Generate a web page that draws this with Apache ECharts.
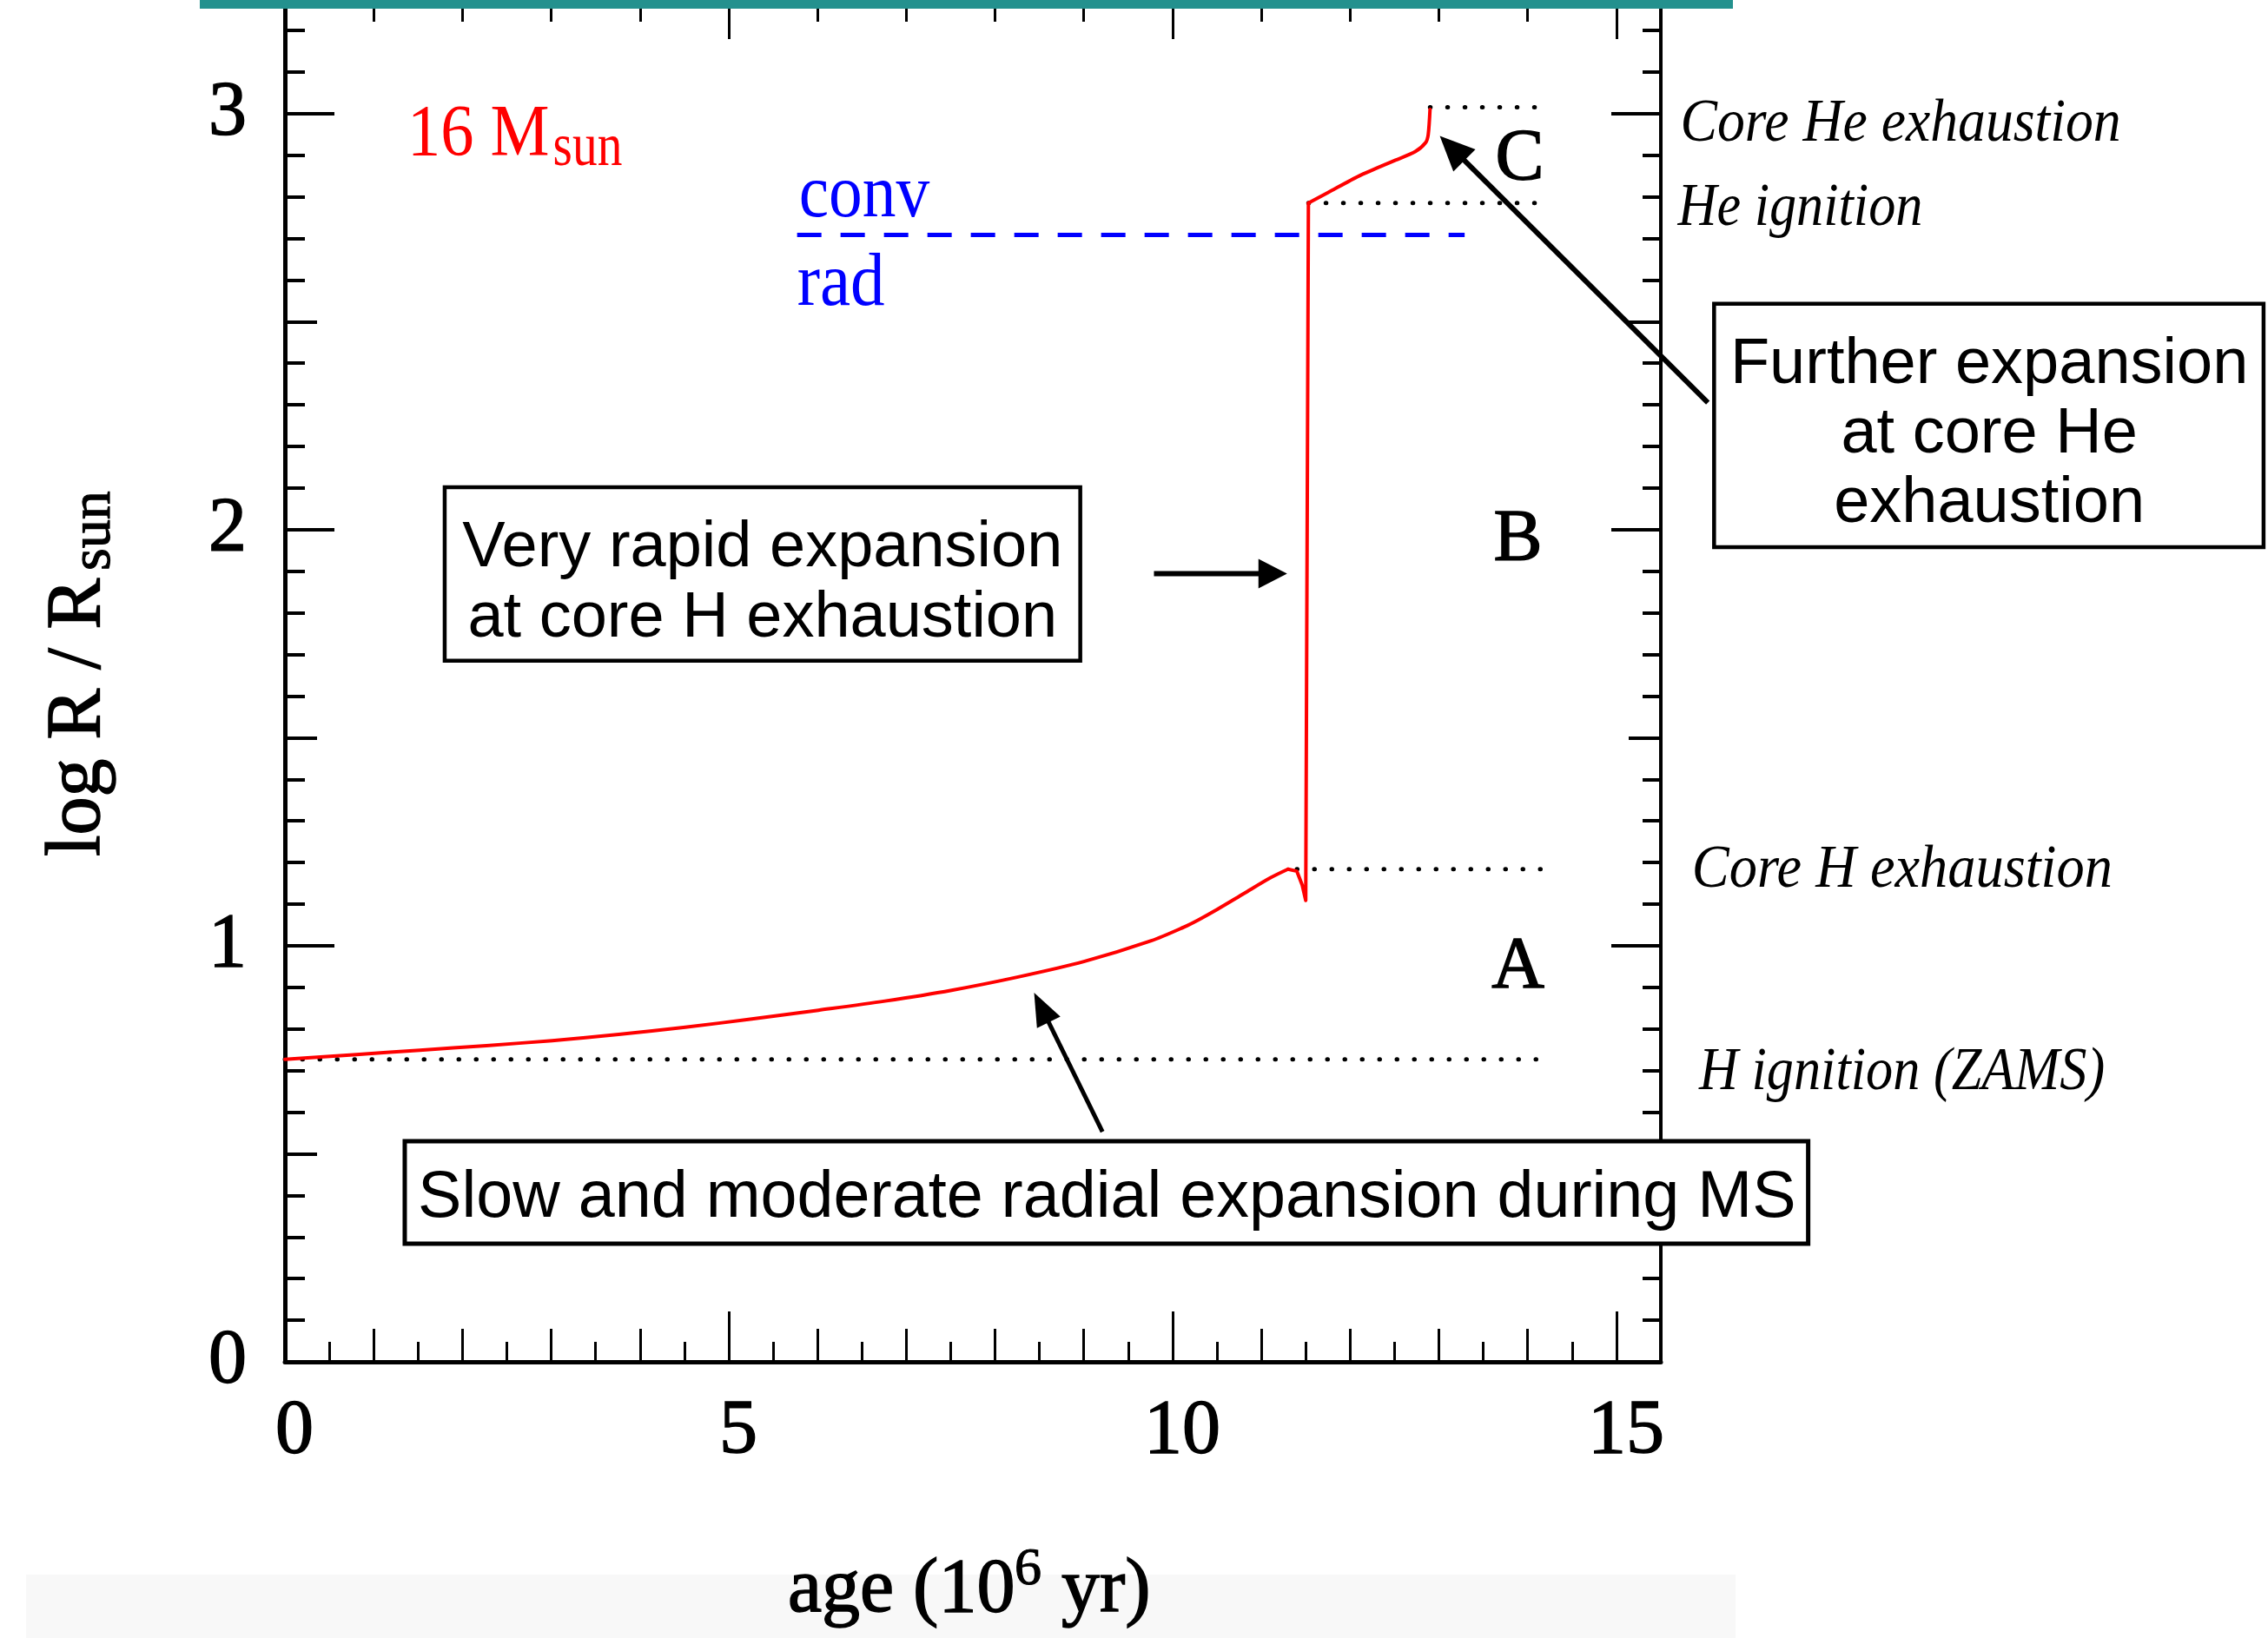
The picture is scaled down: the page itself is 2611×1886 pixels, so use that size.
<!DOCTYPE html>
<html><head><meta charset="utf-8">
<script src="https://cdn.jsdelivr.net/npm/echarts@6/dist/echarts.min.js"></script>
<style>html,body{margin:0;padding:0;background:#fff}#c{width:2611px;height:1886px}</style>
</head><body><div id="c"></div>
<script>
// ---- data (age in 10^6 yr, log R/Rsun) ----
const trackAge  = [0, 0.77, 1.52, 2.27, 3.01, 3.76, 4.51, 5.26, 6.01, 6.76, 7.51, 8.26, 9.0, 9.76, 10.13, 10.29, 10.5, 10.8, 11.1, 11.3, 11.4, 11.46, 11.5, 11.53, 11.75, 12.1, 12.5, 12.73, 12.85, 12.88, 12.9];
const trackLogR = [0.727, 0.738, 0.749, 0.760, 0.772, 0.787, 0.804, 0.824, 0.845, 0.867, 0.893, 0.925, 0.962, 1.012, 1.045, 1.062, 1.087, 1.125, 1.163, 1.184, 1.179, 1.146, 1.109, 2.785, 2.81, 2.85, 2.887, 2.908, 2.93, 2.95, 3.01];
// index ranges of the track phases: main sequence, hook + jump, core He burning
const phaseIndexRanges = [[0, 19], [19, 23], [23, 30]];
const phaseSmooth = [0.3, false, 0.25];

const levelLabels    = ['H ignition (ZAMS)', 'Core H exhaustion', 'He ignition', 'Core He exhaustion'];
const levelLogR      = [0.727, 1.184, 2.785, 3.015];
const levelStartAge  = [0, 11.4, 11.53, 12.9];
const levelEndAge    = [14.18, 14.18, 14.18, 14.18];
const levelLabelAge  = [15.93, 15.85, 15.69, 15.72];
const levelLabelLogR = [0.658, 1.144, 2.733, 2.937];

const boundaryAge  = [5.77, 13.29];
const boundaryLogR = 2.708;

const phaseLabels = ['A', 'B', 'C'];
const phaseAge    = [13.89, 13.89, 13.91];
const phaseLogR   = [0.900, 1.927, 2.841];

const xTickLabels = ['0', '5', '10', '15'];
const yTickLabels = ['0', '1', '2', '3'];

// ---- chart ----
const X_MAX = 15.5, Y_MAX = 3.3;
const SERIF = '"Liberation Serif","Times New Roman",serif';
const SANS = '"Liberation Sans",Arial,sans-serif';
const chart = echarts.init(document.getElementById('c'), null, {renderer: 'canvas', width: 2611, height: 1886});

function xAx(pos, interval, len, main) {
  return {
    type: 'value', position: pos, min: 0, max: X_MAX, interval: interval,
    axisLine: {show: main, onZero: false, lineStyle: {color: '#000', width: pos === 'bottom' ? 5 : 4}},
    axisTick: {show: true, inside: true, length: len, lineStyle: {color: '#000', width: 3}},
    axisLabel: {show: main && pos === 'bottom', margin: 37, fontFamily: SERIF, fontSize: 88, color: '#000',
      textBorderColor: '#000', textBorderWidth: 1.5, padding: [0, 0, 0, 22],
      showMaxLabel: false, showMinLabel: true,
      formatter: v => xTickLabels.indexOf(String(v)) >= 0 ? String(v) : ''},
    splitLine: {show: false}
  };
}
function yAx(pos, interval, len, main) {
  return {
    type: 'value', position: pos, min: 0, max: Y_MAX, interval: interval,
    axisLine: {show: main, onZero: false, lineStyle: {color: '#000', width: pos === 'left' ? 5 : 4}},
    axisTick: {show: true, inside: true, length: len, lineStyle: {color: '#000', width: 4}},
    axisLabel: {show: main && pos === 'left', margin: 44, fontFamily: SERIF, fontSize: 88, color: '#000',
      textBorderColor: '#000', textBorderWidth: 1.5,
      showMaxLabel: false, showMinLabel: true,
      formatter: v => yTickLabels.indexOf(String(v)) >= 0 ? String(v) : ''},
    splitLine: {show: false}
  };
}

const series = [];
levelLogR.forEach((v, i) => {
  series.push({
    type: 'line', xAxisIndex: 0, yAxisIndex: 0, symbol: 'none', silent: true, z: 2,
    data: [[levelStartAge[i], v], [levelEndAge[i], v]],
    lineStyle: {color: '#000', width: 5, type: [0.5, 19.5], cap: 'round'}
  });
});
series.push({
  type: 'line', xAxisIndex: 0, yAxisIndex: 0, symbol: 'none', silent: true, z: 2,
  data: [[boundaryAge[0], boundaryLogR], [boundaryAge[1], boundaryLogR]],
  lineStyle: {color: '#0000ff', width: 5, type: [28, 22]}
});
phaseIndexRanges.forEach((r, k) => {
  const pts = [];
  for (let i = r[0]; i <= r[1]; i++) pts.push([trackAge[i], trackLogR[i]]);
  series.push({
    type: 'line', xAxisIndex: 0, yAxisIndex: 0, symbol: 'none', silent: true, z: 3,
    smooth: phaseSmooth[k],
    data: pts,
    lineStyle: {color: '#ff0000', width: 4, join: 'round', cap: 'round'}
  });
});

chart.setOption({
  animation: false,
  backgroundColor: '#ffffff',
  grid: {left: 328, right: 699, top: -13, bottom: 318, containLabel: false, outerBoundsMode: 'none'},
  xAxis: [
    xAx('bottom', 5, 58, true), xAx('bottom', 1, 38, false), xAx('bottom', 0.5, 23, false),
    xAx('top', 5, 58, true), xAx('top', 1, 38, false), xAx('top', 0.5, 23, false)
  ],
  yAxis: [
    yAx('left', 1, 57, true), yAx('left', 0.5, 37, false), yAx('left', 0.1, 23, false),
    yAx('right', 1, 57, true), yAx('right', 0.5, 37, false), yAx('right', 0.1, 21, false)
  ],
  series: series
});

// ---- annotations ----
function P(x, y) { return chart.convertToPixel({xAxisIndex: 0, yAxisIndex: 0}, [x, y]); }
function txt(x, yBase, s, size, fam, o) {
  o = o || {};
  const k = fam === SANS ? 0.3465 : 0.3375;
  const st = {text: s, font: (o.italic ? 'italic ' : '') + size + 'px ' + fam, fill: o.color || '#000',
      align: o.align || 'left', verticalAlign: 'middle'};
  if (o.bold) { st.stroke = o.color || '#000'; st.lineWidth = o.bold; }
  return {type: 'text', x: x, y: yBase - k * size + 6 + (o.dy || 0), scaleX: o.sx || 1, z: o.z || 70, style: st};
}
function txtD(a, v, s, size, fam, o) { const p = P(a, v); return txt(p[0], p[1], s, size, fam, o); }
function box(a0, v0, a1, v1, w) {
  const p0 = P(a0, v0), p1 = P(a1, v1);
  return {type: 'rect', z: 60, shape: {x: p0[0], y: p0[1], width: p1[0] - p0[0], height: p1[1] - p0[1]},
    style: {fill: '#fff', stroke: '#000', lineWidth: w}};
}
function arrow(a0, v0, a1, v1, head, half, w) {
  const p0 = P(a0, v0), p1 = P(a1, v1);
  const dx = p1[0] - p0[0], dy = p1[1] - p0[1], L = Math.hypot(dx, dy), ux = dx / L, uy = dy / L;
  const bx = p1[0] - ux * head, by = p1[1] - uy * head, nx = -uy, ny = ux;
  return [
    {type: 'line', z: 65, shape: {x1: p0[0], y1: p0[1], x2: bx + ux * 3, y2: by + uy * 3}, style: {stroke: '#000', lineWidth: w}},
    {type: 'polygon', z: 65, shape: {points: [[p1[0], p1[1]], [bx + nx * half, by + ny * half], [bx - nx * half, by - ny * half]]}, style: {fill: '#000'}}
  ];
}

const els = [];
// decorations of the slide
els.push({type: 'rect', z: 1, shape: {x: 30, y: 1813, width: 1968, height: 73}, style: {fill: '#f8f8f8'}});
els.push({type: 'rect', z: 90, shape: {x: 230, y: 0, width: 1765, height: 10}, style: {fill: '#24918e'}});

// axis titles
els.push({type: 'group', x: 121, y: 986, rotation: Math.PI / 2, z: 70, children: [
  txt(0, -6, 'log R / R', 88, SERIF, {bold: 1.5}),
  txt(329, 4, 'sun', 66, SERIF, {bold: 1.2})
]});
els.push(txt(907, 1856, 'age (10', 88, SERIF, {z: 70, bold: 1.5}));
els.push(txt(1168, 1823, '6', 62, SERIF, {z: 70, bold: 1.2}));
els.push(txt(1200, 1856, ' yr)', 88, SERIF, {z: 70, bold: 1.5}));

// mass label and boundary labels
els.push(txtD(1.38, 2.898, '16 M', 84, SERIF, {color: '#ff0000', sx: 0.91}));
els.push(txtD(3.02, 2.877, 'sun', 70, SERIF, {color: '#ff0000', sx: 0.82}));
els.push(txtD(5.79, 2.752, 'conv', 86, SERIF, {color: '#0000ff', sx: 0.9}));
els.push(txtD(5.77, 2.539, 'rad', 86, SERIF, {color: '#0000ff', sx: 0.92}));

// phase letters
phaseLabels.forEach((s, i) => els.push(txtD(phaseAge[i], phaseLogR[i], s, 84, SERIF, {align: 'center', bold: 1.5})));

// level names on the right
const levelSx = [0.89, 0.92, 0.89, 0.91];
levelLabels.forEach((s, i) => els.push(txtD(levelLabelAge[i], levelLabelLogR[i], s, 70, SERIF, {italic: true, sx: levelSx[i]})));

// boxes
els.push(box(1.80, 2.102, 8.96, 1.685, 4.5));
els.push(txtD(5.38, 1.921, 'Very rapid expansion', 74, SANS, {align: 'center', z: 62, dy: 4}));
els.push(txtD(5.38, 1.752, 'at core H exhaustion', 74, SANS, {align: 'center', z: 62, dy: 4}));

els.push(box(1.35, 0.530, 17.16, 0.284, 5));
els.push(txtD(9.26, 0.349, 'Slow and moderate radial expansion during MS', 75.5, SANS, {align: 'center', z: 62}));

els.push(box(16.10, 2.543, 22.29, 1.958, 4.5));
els.push(txtD(19.20, 2.355, 'Further expansion', 74, SANS, {align: 'center', z: 62}));
els.push(txtD(19.20, 2.186, 'at core He', 74, SANS, {align: 'center', z: 62}));
els.push(txtD(19.20, 2.019, 'exhaustion', 74, SANS, {align: 'center', z: 62}));

// arrows
arrow(9.79, 1.894, 11.29, 1.894, 33, 17, 6).forEach(e => els.push(e));
arrow(9.21, 0.553, 8.44, 0.887, 38, 15, 5).forEach(e => els.push(e));
arrow(16.03, 2.305, 13.01, 2.946, 40, 18, 6).forEach(e => els.push(e));

chart.setOption({graphic: {elements: els}});
</script></body></html>
